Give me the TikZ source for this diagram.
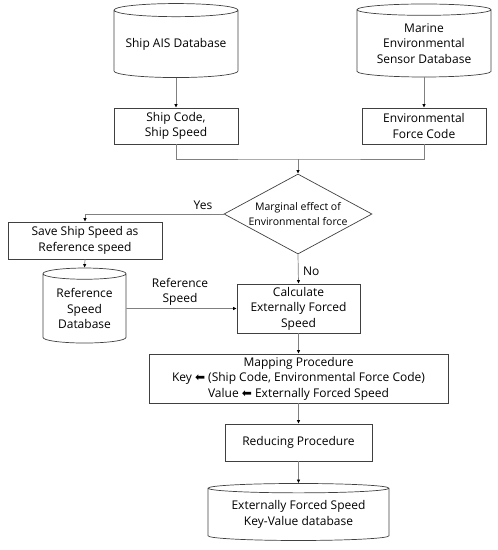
\documentclass[tikz,border=0pt]{standalone}
\usepackage{fontspec}
\setmainfont{Open Sans}
\newfontfamily\arrowfont{DejaVu Sans}
\usetikzlibrary{shapes.geometric,arrows.meta}
\newcommand{\keyArrow}{{\arrowfont ⬅}}
\begin{document}
\begin{tikzpicture}[
                x=1pt, y=-1pt,
                shipFlowBox/.style={draw=black!75,line width=0.7pt,rectangle,
                                    align=center,inner sep=0pt,
                                    font=\fontsize{12}{15.5}\selectfont},
                shipFlowDb/.style={draw=black!75,line width=0.7pt,cylinder,
                                   shape border rotate=90,align=center,inner sep=0pt,
                                   font=\fontsize{12}{15.5}\selectfont},
                shipFlowTest/.style={draw=black!75,line width=0.7pt,diamond,
                                     align=center,inner sep=0pt,
                                     font=\fontsize{10.5}{14.5}\selectfont},
                shipFlowLine/.style={draw=black!50,line width=0.7pt},
                shipFlowArrow/.style={shipFlowLine,-{Latex[black,length=3.5pt,width=3.5pt]}},
                shipFlowLabel/.style={align=center,inner sep=0pt,
                                      font=\fontsize{12}{15.5}\selectfont}]
                \useasboundingbox (0,0) rectangle (498,550);
                \node[shipFlowDb,minimum width=124pt,minimum height=74pt,aspect=0.13]
                    (aisDb) at (176,44) {Ship AIS Database};
                \node[shipFlowDb,minimum width=134pt,minimum height=73pt,aspect=0.12]
                    (envDb) at (424,43.5) {Marine\\Environmental\\Sensor Database};
                \node[shipFlowBox,minimum width=124pt,minimum height=36pt]
                    (shipCode) at (176,126) {Ship Code,\\Ship Speed};
                \node[shipFlowBox,minimum width=124pt,minimum height=36pt]
                    (forceCode) at (424,126) {Environmental\\Force Code};
                \coordinate (merge) at (298,159);
                \node[shipFlowTest,minimum width=148pt,minimum height=80pt,aspect=1.85]
                    (marginal) at (298,214) {Marginal effect of\\Environmental force};
                \node[shipFlowBox,minimum width=154pt,minimum height=37pt]
                    (saveSpeed) at (85,240.5) {Save Ship Speed as\\Reference speed};
                \node[shipFlowDb,minimum width=83pt,minimum height=75pt,aspect=0.2]
                    (refDb) at (84.5,308.5) {Reference\\Speed\\Database};
                \node[shipFlowBox,minimum width=123pt,minimum height=49pt]
                    (calcSpeed) at (298.5,308.5) {Calculate\\Externally Forced\\Speed};
                \node[shipFlowBox,minimum width=299pt,minimum height=49pt]
                    (mapping) at (298.5,378.5)
                    {Mapping Procedure\\Key \keyArrow{} (Ship Code, Environmental Force Code)\\Value \keyArrow{} Externally Forced Speed};
                \node[shipFlowBox,minimum width=147pt,minimum height=37pt]
                    (reducing) at (298.5,442.5) {Reducing Procedure};
                \node[shipFlowDb,minimum width=181pt,minimum height=57pt,aspect=0.07]
                    (kvDb) at (298.5,514.5) {Externally Forced Speed\\Key-Value database};
                \draw[shipFlowArrow] (aisDb.south) -- (shipCode.north);
                \draw[shipFlowArrow] (envDb.south) -- (forceCode.north);
                \draw[shipFlowLine] (shipCode.south) |- (merge) -| (forceCode.south);
                \draw[shipFlowArrow] (merge) -- (marginal.north);
                \draw[shipFlowArrow] (marginal.west) -| (saveSpeed.north);
                \node[shipFlowLabel] (yesLabel) at (203,205) {Yes};
                \draw[shipFlowArrow] (marginal.south) -- (calcSpeed.north);
                \node[shipFlowLabel,anchor=west] (noLabel) at (303,271) {No};
                \draw[shipFlowArrow] (saveSpeed.south) -- (refDb.north);
                \draw[shipFlowArrow] (refDb.east) -- (calcSpeed.west);
                \node[shipFlowLabel] (refLabel) at (180,292) {Reference\\Speed};
                \draw[shipFlowArrow] (calcSpeed.south) -- (mapping.north);
                \draw[shipFlowArrow] (mapping.south) -- (reducing.north);
                \draw[shipFlowArrow] (reducing.south) -- (kvDb.north);
            \end{tikzpicture}
\end{document}
